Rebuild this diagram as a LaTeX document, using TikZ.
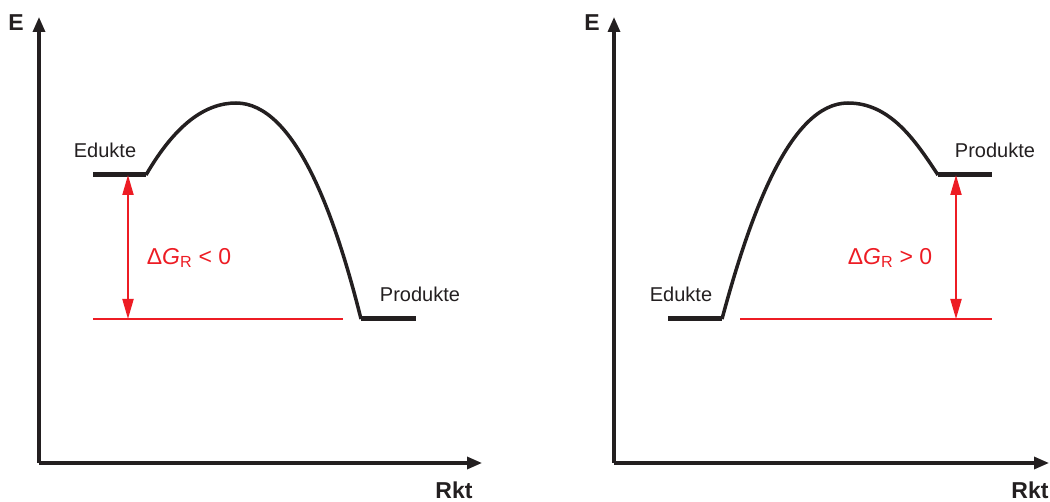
\documentclass[tikz,border=0pt]{standalone}
\usepackage{fontspec}
\setmainfont{Liberation Sans}
\usepackage{xcolor}
\usetikzlibrary{arrows.meta, positioning}
\definecolor{levelred}{HTML}{ED1C24}
\definecolor{inkblack}{HTML}{231F20}

\begin{document}
\begin{tikzpicture}[
  x=1pt, y=-1pt,
  axis/.style={-{Triangle[length=15pt, width=12pt]}, line width=3.2pt, color=inkblack},
  level/.style={line width=5pt, color=inkblack},
  curve/.style={line width=3.5pt, color=inkblack, line join=round},
  ref/.style={line width=1.5pt, color=levelred},
  dgarrow/.style={{Triangle[length=20pt, width=11pt]}-{Triangle[length=20pt, width=11pt]}, line width=2pt, color=levelred},
  axlabel/.style={font=\fontsize{23}{24}\selectfont\bfseries, text=inkblack, inner sep=0pt},
  statelabel/.style={font=\fontsize{20}{22}\selectfont, text=inkblack, inner sep=0pt},
  dglabel/.style={font=\fontsize{23}{25}\selectfont, text=levelred, inner sep=0pt}
]
  \useasboundingbox (0,0) rectangle (1050,502);

  % left: exergonic
  \coordinate (oL) at (39,463);
  \coordinate (yL) at (39,17);
  \coordinate (xL) at (482,463);
  \coordinate (edA) at (93,175);
  \coordinate (edB) at (146,175);
  \coordinate (tsL) at (236,103);
  \coordinate (prA) at (361,319);
  \coordinate (prB) at (416,319);
  \coordinate (refA) at (93,319);
  \coordinate (refB) at (343,319);
  \coordinate (dgTop) at (128,175);
  \coordinate (dgBot) at (128,319);

  \draw[axis] (oL) -- (yL);
  \draw[axis] (oL) -- (xL);
  \node[axlabel] (eL) at (16,23) {E};
  \node[axlabel] (rktL) at (454,490) {Rkt};

  \draw[level] (edA) -- (edB);
  \draw[level] (prA) -- (prB);
  \draw[curve] (edB) .. controls (175,125) and (205,103) .. (tsL)
               .. controls (295,103) and (335,215) .. (prA);
  \draw[ref] (refA) -- (refB);
  \draw[dgarrow] (dgTop) -- (dgBot);

  \node[statelabel] (edL) at (105,150) {Edukte};
  \node[statelabel] (prL) at (420,294) {Produkte};
  \node[dglabel] (dgL) at (189,258) {Δ\textit{G}\textsubscript{R} < 0};

  % right: endergonic
  \coordinate (oR) at (614,463);
  \coordinate (yR) at (614,17);
  \coordinate (xR) at (1049,463);
  \coordinate (edC) at (668,319);
  \coordinate (edD) at (722,319);
  \coordinate (tsR) at (848,103);
  \coordinate (prC) at (938,175);
  \coordinate (prD) at (992,175);
  \coordinate (refC) at (740,319);
  \coordinate (refD) at (992,319);
  \coordinate (dgTopR) at (956,175);
  \coordinate (dgBotR) at (956,319);

  \draw[axis] (oR) -- (yR);
  \draw[axis] (oR) -- (xR);
  \node[axlabel] (eR) at (592,23) {E};
  \node[axlabel] (rktR) at (1030,490) {Rkt};

  \draw[level] (edC) -- (edD);
  \draw[level] (prC) -- (prD);
  \draw[curve] (edD) .. controls (750,215) and (790,103) .. (tsR)
               .. controls (890,103) and (915,140) .. (prC);
  \draw[ref] (refC) -- (refD);
  \draw[dgarrow] (dgTopR) -- (dgBotR);

  \node[statelabel] (edR) at (681,294) {Edukte};
  \node[statelabel] (prR) at (995,150) {Produkte};
  \node[dglabel] (dgR) at (890,258) {Δ\textit{G}\textsubscript{R} > 0};
\end{tikzpicture}
\end{document}
